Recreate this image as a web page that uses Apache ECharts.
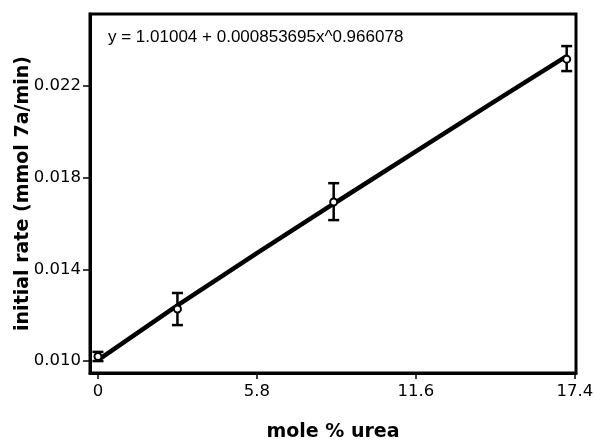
<!DOCTYPE html>
<html>
<head>
<meta charset="utf-8">
<script src="https://cdn.jsdelivr.net/npm/echarts@6/dist/echarts.min.js"></script>
<style>html,body{margin:0;padding:0;background:#fff}#c{width:595px;height:441px}</style>
</head>
<body>
<div id="c"></div>
<script>
// Measured data (mole % urea vs initial rate)
var xValues = [0, 2.9, 8.6, 17.1];
var yValues = [0.01020, 0.01227, 0.01694, 0.02317];
var errLow  = [0.01000, 0.01157, 0.01615, 0.02265];
var errHigh = [0.01040, 0.01297, 0.01776, 0.02374];
// Fitted curve points
var fitX = [0, 2.9, 5.8, 8.7, 11.6, 14.5, 17.1];
var fitY = [0.01004, 0.01243, 0.01471, 0.01694, 0.01915, 0.02135, 0.02330];
var xTicks = [0, 5.8, 11.6, 17.4];
var yTicks = [0.010, 0.014, 0.018, 0.022];
var equation = 'y = 1.01004 + 0.000853695x^0.966078';

var chart = echarts.init(document.getElementById('c'));
var pts = xValues.map(function(x, i){ return [x, yValues[i]]; });
var errs = xValues.map(function(x, i){ return [x, errLow[i], errHigh[i]]; });
var fit = fitX.map(function(x, i){ return [x, fitY[i]]; });

chart.setOption({
  animation: false,
  backgroundColor: '#fff',
  grid: { left: 90, right: 19, top: 14, bottom: 68, outerBoundsMode: 'none', containLabel: false,
          show: true, borderColor: '#000', borderWidth: 3, backgroundColor: '#fff' },
  xAxis: {
    type: 'value', min: -0.29, max: 17.44,
    name: 'mole % urea', nameLocation: 'middle', nameGap: 50, nameMoveOverlap: false,
    nameTextStyle: { fontFamily: 'DejaVu Sans', fontWeight: 'bold', fontSize: 19, color: '#000' },
    splitLine: { show: false },
    axisLine: { show: true, onZero: false, lineStyle: { color: '#000', width: 3 } },
    axisTick: { show: true, customValues: xTicks, length: 6, lineStyle: { color: '#000', width: 1.5 } },
    axisLabel: { customValues: xTicks, fontFamily: 'DejaVu Sans', fontSize: 16.5, color: '#000', margin: 10,
      formatter: function(v){ return (Math.round(v*10)/10).toString(); } }
  },
  yAxis: {
    type: 'value', min: 0.00948, max: 0.02514,
    name: 'initial rate (mmol 7a/min)', nameLocation: 'middle', nameGap: 57, nameMoveOverlap: false,
    nameTextStyle: { fontFamily: 'DejaVu Sans', fontWeight: 'bold', fontSize: 19, color: '#000' },
    splitLine: { show: false },
    axisLine: { show: true, onZero: false, lineStyle: { color: '#000', width: 3 } },
    axisTick: { show: true, customValues: yTicks, length: 7, lineStyle: { color: '#000', width: 1.5 } },
    axisLabel: { customValues: yTicks, fontFamily: 'DejaVu Sans', fontSize: 16.5, color: '#000', margin: 9,
      formatter: function(v){ return v.toFixed(3); } }
  },
  graphic: [{
    type: 'text', left: 108, top: 29,
    style: { text: equation, fontFamily: 'Liberation Sans', fontSize: 17, fill: '#000' }
  }],
  series: [
    { type: 'line', data: fit, symbol: 'none', smooth: false, lineStyle: { color: '#000', width: 4.5 }, z: 2 },
    { type: 'custom', data: errs, z: 3,
      renderItem: function(params, api){
        var x = api.value(0);
        var lo = api.coord([x, api.value(1)]);
        var hi = api.coord([x, api.value(2)]);
        var w = 5.5;
        var st = { stroke: '#000', lineWidth: 2.5 };
        return { type: 'group', children: [
          { type: 'line', shape: { x1: lo[0], y1: lo[1], x2: hi[0], y2: hi[1] }, style: st },
          { type: 'line', shape: { x1: lo[0]-w, y1: lo[1], x2: lo[0]+w, y2: lo[1] }, style: st },
          { type: 'line', shape: { x1: hi[0]-w, y1: hi[1], x2: hi[0]+w, y2: hi[1] }, style: st }
        ]};
      }
    },
    { type: 'scatter', data: pts, symbol: 'circle', symbolSize: 7, z: 4,
      itemStyle: { color: '#fff', borderColor: '#000', borderWidth: 2, opacity: 1 } }
  ]
});
</script>
</body>
</html>
